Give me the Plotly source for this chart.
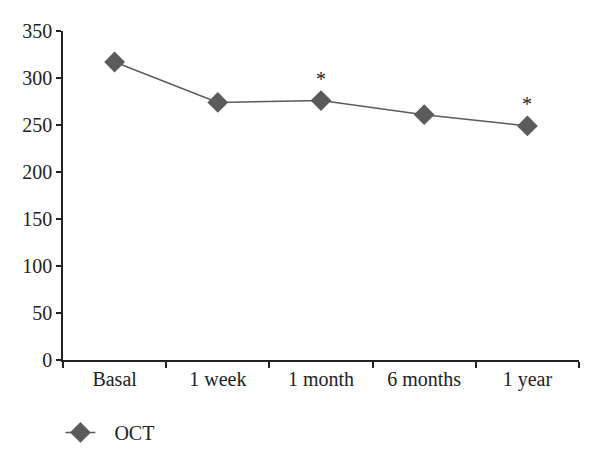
import plotly.graph_objects as go

categories = ["Basal", "1 week", "1 month", "6 months", "1 year"]
oct_values = [317, 274, 276, 261, 249]
significant = [False, False, True, False, True]
y_ticks = [0, 50, 100, 150, 200, 250, 300, 350]

GREY = "#5b5b5b"
FONT = "Liberation Serif"

fig = go.Figure()
fig.add_trace(go.Scatter(
    x=categories, y=oct_values, mode="lines+markers", name="\u2002\u2009OCT",
    line=dict(color=GREY, width=1.5),
    marker=dict(symbol="diamond", size=16, color=GREY),
))

for c, v, s in zip(categories, oct_values, significant):
    if s:
        fig.add_annotation(x=c, y=v, text="*", showarrow=False, yshift=22,
                           font=dict(family=FONT, size=20, color="#222"))

fig.update_layout(
    width=592, height=459,
    margin=dict(l=55, r=21, t=23, b=107),
    paper_bgcolor="white", plot_bgcolor="white",
    font=dict(family=FONT, size=20, color="#222"),
    showlegend=True,
    legend=dict(orientation="h", x=-0.005, xanchor="left", y=-0.22, yanchor="middle",
                font=dict(family=FONT, size=20, color="#222")),
)
fig.update_xaxes(
    type="category", range=[-0.5, 4.5], tickson="boundaries",
    showline=True, linecolor="#222", linewidth=1.5,
    ticks="outside", ticklen=6, tickcolor="#222", tickwidth=1.5,
    showgrid=False, zeroline=False,
)
fig.update_yaxes(
    range=[0, 350], tickvals=y_ticks,
    showline=True, linecolor="#222", linewidth=1.5,
    ticks="outside", ticklen=5, tickcolor="#222", tickwidth=1.5,
    showgrid=False, zeroline=False,
)

fig.write_html("out.html")
